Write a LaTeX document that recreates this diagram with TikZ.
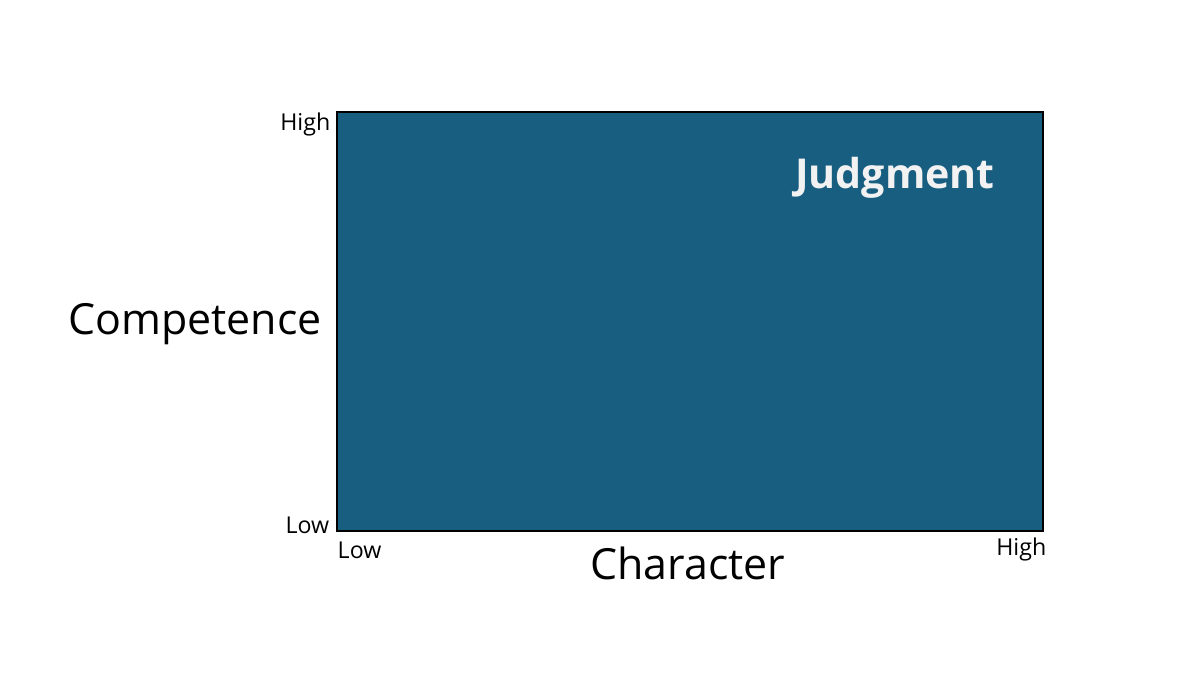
\documentclass[tikz,border=0pt]{standalone}
\usepackage{fontspec}
\setmainfont{Open Sans}
\definecolor{boxblue}{HTML}{185E81}
\definecolor{offwhite}{HTML}{F2F2F2}
\begin{document}
\begin{tikzpicture}[x=0.01cm,y=-0.01cm,
  tick/.style={font=\fontsize{6.6pt}{8pt}\selectfont, inner sep=0pt},
  axis/.style={font=\fontsize{12.2pt}{14pt}\selectfont, inner sep=0pt},
  title/.style={font=\fontsize{11.7pt}{13pt}\selectfont\bfseries, text=offwhite, inner sep=0pt}]
\useasboundingbox (0,0) rectangle (1200,675);
\draw[fill=boxblue, draw=black, line width=0.4pt] (337,112) rectangle (1043,531);
\node[title] (judg) at (895,178) {Judgment};
\node[axis] (comp) at (195,324) {Competence};
\node[axis] (char) at (688,563) {Character};
\node[tick, anchor=east] (hl) at (331,124) {High};
\node[tick, anchor=east] (ll) at (330,525) {Low};
\node[tick, anchor=west] (lb) at (337,550) {Low};
\node[tick, anchor=east] (hb) at (1047,549) {High};
\end{tikzpicture}
\end{document}
